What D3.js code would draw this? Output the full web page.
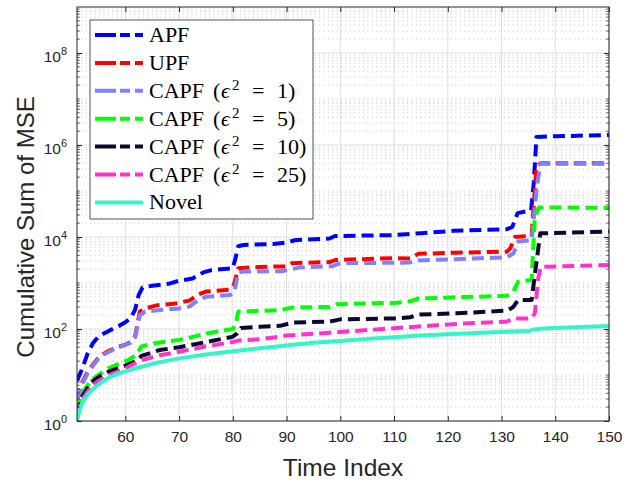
<!DOCTYPE html>
<html>
<head>
<meta charset="utf-8">
<script src="https://cdn.jsdelivr.net/npm/d3@7"></script>
<style>
  body { margin: 0; background: #fff; }
  svg { display: block; }
</style>
</head>
<body>
<svg id="chart" width="637" height="482"></svg>
<script>
// cumulative MSE per time index: [time, value]
var apf = [[51,7.5],[52,14],[53,30],[54,50],[55,68],[56,80],[57,92],[58,105],[59,120],[60,140],[61,175],[61.8,260],[62.5,560],[63.2,800],[65,870],[68,960],[70,1120],[72.5,1250],[74.5,1700],[76,1900],[80,2100],[80.5,3500],[81,6300],[82,6700],[88,7100],[90,7600],[91.5,8500],[98,9300],[99,10500],[110,11000],[113,11600],[115,12100],[121,13600],[131,14800],[132,16500],[133,33000],[135.5,38000],[136,150000],[136.5,1.5e6],[140,1.55e6],[150,1.65e6]];
var upf = [[51,2.8],[52,7],[53,12],[54,17],[55,24],[56,29],[57,34],[58,38],[60,46],[61,52],[61.8,68],[62.7,240],[63.7,280],[66,330],[69,355],[70,370],[72,420],[73.5,560],[75,650],[79.5,720],[80.2,900],[81,2100],[85,2240],[90,2300],[91,2700],[98,2850],[99,3160],[110,3470],[113,3400],[114.5,4300],[121.6,4570],[131,4800],[131.6,5600],[132.5,10000],[135.6,10500],[136.5,340000],[137.2,400000],[150,400000]];
var capf1 = [[51,2.8],[52,6.5],[53,11],[54,16],[55,23],[56,28],[58,37],[60,45],[61,50],[61.8,65],[62.7,200],[63.7,240],[66,255],[70,280],[72,310],[73.5,420],[75,500],[79.5,550],[80.3,650],[81,1700],[82,1780],[89,1800],[90,1900],[92.5,2190],[98.7,2340],[100,2700],[110,2750],[113,2800],[114.5,3100],[121.6,3300],[131,3630],[132.2,4370],[133.1,7940],[135.6,8500],[136.5,100000],[137.2,390000],[150,390000]];
var capf5 = [[51,1.7],[51.9,4],[53.7,7.8],[55,10],[56.8,14],[58,16],[60.5,21],[62,27],[63,42],[65,48],[67,52],[70,58],[72,65],[75,80],[80,100],[80.5,120],[81,240],[88.8,257],[91.2,295],[98,302],[99.3,347],[110.5,372],[113,400],[114.5,460],[121.6,490],[131,525],[132.2,645],[133.1,1070],[135.6,1170],[136.2,27500],[137,44000],[150,43000]];
var capf10 = [[51,1.4],[52,3.5],[53.7,7.1],[55,9],[57,12],[60,16],[62,20],[63,26],[66.4,35],[70,40],[75,52],[80,68],[80.8,80],[81.5,105],[85,112],[88.8,117],[91.2,138],[98,145],[100,162],[110.5,170],[113,180],[114.5,205],[121.6,219],[131,251],[132.2,302],[133.1,427],[135.6,427],[136.2,1500],[137.2,12000],[150,13200]];
var capf25 = [[51,1.3],[52,3],[53.7,5.6],[55,7.5],[57,10],[60,14],[63,21],[66.4,27],[70,32],[75,42],[80,52],[81,56],[85,60],[88.8,68],[90,72],[98,83],[110.5,105],[121.6,129],[131,145],[132.2,170],[135.6,170],[136.2,220],[136.8,1200],[137.3,2250],[150,2450]];
var novel = [[51,1],[51.5,1.8],[52,2.5],[53,3.8],[54,5],[55,6.2],[56,7.5],[57,8.8],[58,10],[60,12],[62,14],[65,17.5],[70,23],[75,28],[80,33],[85,38],[90,44],[95,50],[100,55],[105,61],[110,66],[115,72],[120,77],[125,82],[130,86],[135,90],[136,98],[137,101],[140,105],[145,111],[150,116]];

var seriesData = [apf, upf, capf1, capf5, capf10, capf25, novel];
var seriesNames = ["APF", "UPF", "CAPF", "CAPF", "CAPF", "CAPF", "Novel"];
var seriesEps = [null, null, "1", "5", "10", "25", null];
var seriesColors = ["#0000ff", "#ff0000", "#8080ff", "#00ff00", "#0a0a2e", "#ff33cc", "#33f5c8"];
var seriesDashed = [true, true, true, true, true, true, false];

var xTicks = [60, 70, 80, 90, 100, 110, 120, 130, 140, 150];
var yTickExps = [0, 2, 4, 6, 8];

var svg = d3.select('#chart');
var pLeft = 77, pRight = 609, pTop = 7, pBottom = 421;
var axisColor = '#262626';
var sansFont = '"Liberation Sans", Arial, Helvetica, sans-serif';

var x = d3.scaleLinear().domain([51, 150]).range([pLeft, pRight]);
var y = d3.scaleLog().domain([1, 1e9]).range([pBottom, pTop]);

// minor log positions: 1..9 x 10^k (except labelled decades)
var minorVals = [];
for (var e = 0; e < 9; e++) {
  for (var m = 1; m <= 9; m++) {
    if (m == 1 && e % 2 == 0) continue;
    minorVals.push(m * Math.pow(10, e));
  }
}

var grid = svg.append('g');
grid.selectAll('line.minor')
  .data(minorVals)
  .enter().append('line')
  .attr('x1', pLeft).attr('x2', pRight)
  .attr('y1', d => y(d)).attr('y2', d => y(d))
  .attr('stroke', '#b4b4b4')
  .attr('stroke-width', 0.8)
  .attr('stroke-dasharray', '1,3.4');

grid.selectAll('line.hmaj')
  .data(yTickExps)
  .enter().append('line')
  .attr('x1', pLeft).attr('x2', pRight)
  .attr('y1', d => y(Math.pow(10, d))).attr('y2', d => y(Math.pow(10, d)))
  .attr('stroke', '#dedede')
  .attr('stroke-width', 1);

grid.selectAll('line.vmaj')
  .data(xTicks)
  .enter().append('line')
  .attr('x1', d => x(d)).attr('x2', d => x(d))
  .attr('y1', pTop).attr('y2', pBottom)
  .attr('stroke', '#dedede')
  .attr('stroke-width', 1);

// data lines
svg.append('clipPath').attr('id', 'plotclip')
  .append('rect').attr('x', pLeft).attr('y', pTop - 2)
  .attr('width', pRight - pLeft + 2).attr('height', pBottom - pTop + 4);

var line = d3.line().x(d => x(d[0])).y(d => y(d[1]));
var plot = svg.append('g').attr('clip-path', 'url(#plotclip)');
seriesData.forEach(function(s, i) {
  plot.append('path')
    .datum(s)
    .attr('d', line)
    .attr('fill', 'none')
    .attr('stroke', seriesColors[i])
    .attr('stroke-width', 4)
    .attr('stroke-linejoin', 'round')
    .attr('stroke-dasharray', seriesDashed[i] ? '12,6' : null);
});

// axes
var xAxis = svg.append('g')
  .attr('transform', `translate(0,${pBottom})`)
  .call(d3.axisBottom(x).tickValues(xTicks).tickSize(-5).tickPadding(10));
xAxis.select('.domain').remove();
xAxis.selectAll('line').attr('stroke', axisColor);
xAxis.selectAll('text')
  .attr('fill', axisColor)
  .style('font-family', sansFont)
  .style('font-size', '15.5px');

var xTop = svg.append('g')
  .attr('transform', `translate(0,${pTop})`)
  .call(d3.axisTop(x).tickValues(xTicks).tickSize(-5).tickFormat(''));
xTop.select('.domain').remove();
xTop.selectAll('line').attr('stroke', axisColor);

var yAxis = svg.append('g')
  .attr('transform', `translate(${pLeft},0)`)
  .call(d3.axisLeft(y).tickValues(yTickExps.map(d => Math.pow(10, d))).tickSize(-5).tickFormat(''));
yAxis.select('.domain').remove();
yAxis.selectAll('line').attr('stroke', axisColor);
yAxis.selectAll('.tick').each(function(d) {
  var t = d3.select(this).append('text')
    .attr('x', -10).attr('y', 8)
    .attr('text-anchor', 'end')
    .attr('fill', axisColor)
    .style('font-family', sansFont)
    .style('font-size', '15.5px');
  t.append('tspan').text('10');
  t.append('tspan').attr('dy', -7).style('font-size', '11px')
    .text(Math.round(Math.log10(d)));
});

var yRight = svg.append('g')
  .attr('transform', `translate(${pRight},0)`)
  .call(d3.axisRight(y).tickValues(yTickExps.map(d => Math.pow(10, d))).tickSize(-5).tickFormat(''));
yRight.select('.domain').remove();
yRight.selectAll('line').attr('stroke', axisColor);

// minor ticks on both y sides
[pLeft, pRight].forEach(function(px) {
  var dir = px == pLeft ? 1 : -1;
  svg.append('g').selectAll('line')
    .data(minorVals)
    .enter().append('line')
    .attr('x1', px).attr('x2', px + dir * 2.7)
    .attr('y1', d => y(d)).attr('y2', d => y(d))
    .attr('stroke', axisColor)
    .attr('stroke-width', 0.8);
});

// box
svg.append('rect')
  .attr('x', pLeft).attr('y', pTop)
  .attr('width', pRight - pLeft).attr('height', pBottom - pTop)
  .attr('fill', 'none')
  .attr('stroke', axisColor)
  .attr('stroke-width', 1);

// axis titles
svg.append('text')
  .attr('x', (pLeft + pRight) / 2).attr('y', 476)
  .attr('text-anchor', 'middle')
  .attr('fill', axisColor)
  .style('font-family', sansFont)
  .style('font-size', '24.5px')
  .text('Time Index');

svg.append('text')
  .attr('transform', 'translate(34,227) rotate(-90)')
  .attr('text-anchor', 'middle')
  .attr('fill', axisColor)
  .style('font-family', sansFont)
  .style('font-size', '24px')
  .text('Cumulative Sum of MSE');

// legend
var legend = svg.append('g');
legend.append('rect')
  .attr('x', 90).attr('y', 20)
  .attr('width', 223).attr('height', 199)
  .attr('fill', '#fff')
  .attr('stroke', axisColor)
  .attr('stroke-width', 0.8);

var serif = '"Liberation Serif", "Times New Roman", serif';
seriesNames.forEach(function(name, i) {
  var cy = 35 + i * 27.9;
  legend.append('line')
    .attr('x1', 95).attr('x2', 143)
    .attr('y1', cy).attr('y2', cy)
    .attr('stroke', seriesColors[i])
    .attr('stroke-width', 4)
    .attr('stroke-dasharray', seriesDashed[i] ? '21,4,10,5,10' : null);

  var t = legend.append('text')
    .attr('x', 149).attr('y', cy + 7)
    .attr('fill', '#000')
    .style('font-family', serif)
    .style('font-size', '22px');
  t.append('tspan').text(name);
  if (seriesEps[i] != null) {
    t.append('tspan').attr('x', 213).text('(');
    t.append('tspan').attr('x', 221).style('font-style', 'italic').text('\u03F5');
    t.append('tspan').attr('x', 232).attr('dy', -8).style('font-size', '15px').text('2');
    t.append('tspan').attr('x', 252).attr('dy', 8).text('=');
    t.append('tspan').attr('x', 277).text(seriesEps[i]);
    t.append('tspan').attr('x', seriesEps[i].length > 1 ? 299 : 288).text(')');
  }
});
</script>
</body>
</html>
